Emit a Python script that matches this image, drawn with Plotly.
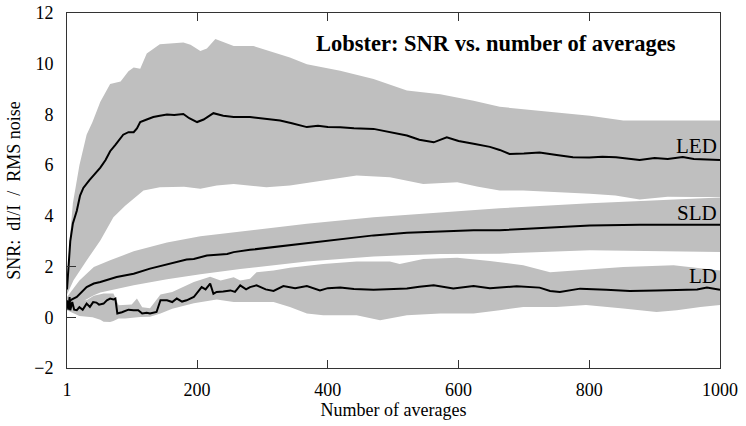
import plotly.graph_objects as go

# ---------------- data ----------------
led_x = [1, 3, 6, 10, 16, 21, 26, 35, 45, 52, 60, 67, 75, 87, 95, 103, 108, 113, 123, 133, 143, 154, 165, 179,
         188, 200, 210, 225, 240, 256, 281, 300, 327, 345, 368, 385, 400, 419, 440, 470, 495, 521, 540, 562, 582,
         600, 623, 648, 663, 678, 700, 724, 750, 775, 800, 820, 841, 860, 877, 900, 920, 943, 960, 980, 1000]
led_y = [1.1, 2.0, 3.0, 3.7, 4.2, 4.8, 5.1, 5.4, 5.7, 5.9, 6.2, 6.55, 6.8, 7.2, 7.3, 7.3, 7.45, 7.7, 7.8, 7.9,
         7.95, 8.0, 7.98, 8.02, 7.85, 7.7, 7.8, 8.05, 7.95, 7.9, 7.9, 7.85, 7.76, 7.65, 7.5, 7.55, 7.5, 7.49,
         7.45, 7.43, 7.3, 7.17, 7.0, 6.9, 7.1, 6.95, 6.84, 6.72, 6.6, 6.44, 6.46, 6.5, 6.4, 6.31, 6.3, 6.33,
         6.31, 6.26, 6.2, 6.28, 6.24, 6.32, 6.24, 6.22, 6.2]
led_up_x = [1, 5, 10, 20, 31, 40, 52, 67, 83, 95, 103, 113, 123, 143, 179, 190, 205, 215, 228, 240, 256, 286,
            310, 342, 368, 419, 470, 521, 572, 623, 663, 699, 750, 801, 852, 1000]
led_up_y = [1.3, 3.0, 4.5, 6.0, 7.2, 7.7, 8.5, 9.2, 9.3, 9.7, 9.85, 9.8, 10.4, 10.77, 10.84, 10.75, 10.5, 10.6,
            10.97, 10.85, 10.7, 10.7, 10.5, 10.25, 9.98, 9.72, 9.4, 8.94, 8.8, 8.54, 8.3, 8.22, 8.08, 7.95,
            7.76, 7.76]
led_lo_x = [1, 11, 31, 52, 72, 90, 103, 118, 143, 180, 205, 230, 256, 306, 342, 393, 444, 495, 546, 598, 630,
            663, 699, 750, 801, 840, 877, 920, 960, 1000]
led_lo_y = [0.9, 1.46, 2.24, 3.03, 3.95, 4.4, 4.67, 5.0, 5.13, 5.15, 5.07, 5.2, 5.26, 5.13, 5.2, 5.39, 5.59,
            5.52, 5.26, 5.33, 5.15, 5.0, 5.0, 4.93, 4.87, 4.8, 4.65, 4.75, 4.74, 4.74]

sld_x = [1, 8, 16, 31, 42, 52, 77, 93, 103, 128, 144, 154, 184, 195, 215, 246, 256, 281, 317, 368, 419, 470,
         521, 572, 623, 663, 699, 750, 801, 877, 1000]
sld_y = [0.54, 0.7, 0.8, 1.19, 1.33, 1.39, 1.59, 1.66, 1.72, 1.92, 2.02, 2.11, 2.28, 2.3, 2.44, 2.5, 2.57, 2.66,
         2.77, 2.93, 3.1, 3.23, 3.33, 3.39, 3.43, 3.43, 3.48, 3.56, 3.62, 3.65, 3.65]
sld_up_x = [1, 20, 42, 67, 103, 154, 205, 266, 368, 470, 572, 663, 801, 1000]
sld_up_y = [0.8, 1.45, 1.98, 2.25, 2.6, 2.95, 3.2, 3.38, 3.69, 3.95, 4.15, 4.3, 4.5, 4.72]
sld_lo_x = [1, 20, 42, 52, 103, 154, 205, 266, 368, 470, 572, 663, 801, 900, 1000]
sld_lo_y = [0.28, 0.55, 0.87, 0.98, 1.26, 1.5, 1.7, 1.9, 2.2, 2.4, 2.5, 2.51, 2.64, 2.6, 2.57]

ld_x = [1, 3, 5, 6, 9, 12, 16, 20, 25, 31, 36, 41, 46, 50, 57, 62, 67, 72, 75, 78, 85, 95, 103, 110, 116, 123,
        128, 138, 144, 154, 162, 169, 177, 184, 195, 207, 213, 220, 225, 230, 240, 251, 258, 266, 275, 281, 291,
        305, 317, 332, 350, 368, 388, 400, 419, 440, 470, 495, 521, 540, 562, 592, 610, 623, 648, 663, 689, 724,
        740, 755, 786, 826, 862, 903, 944, 965, 980, 1000]
ld_y = [0.67, 0.3, 0.8, 0.28, 0.6, 0.3, 0.28, 0.4, 0.3, 0.54, 0.41, 0.6, 0.58, 0.5, 0.54, 0.67, 0.74, 0.7, 0.74,
        0.15, 0.2, 0.3, 0.28, 0.28, 0.15, 0.18, 0.15, 0.21, 0.67, 0.67, 0.6, 0.74, 0.62, 0.67, 0.8, 1.19, 1.1,
        1.33, 0.93, 1.0, 1.02, 1.06, 1.0, 1.26, 1.1, 1.19, 1.26, 1.1, 1.04, 1.23, 1.15, 1.23, 1.06, 1.15, 1.17,
        1.12, 1.09, 1.12, 1.14, 1.2, 1.26, 1.14, 1.2, 1.23, 1.15, 1.17, 1.22, 1.17, 1.04, 1.0, 1.13, 1.09, 1.04,
        1.06, 1.09, 1.1, 1.17, 1.09]
ld_up_x = [1, 10, 31, 42, 57, 72, 80, 100, 108, 116, 128, 144, 162, 195, 220, 236, 256, 266, 281, 291, 317, 342,
           393, 444, 495, 510, 546, 598, 648, 699, 740, 775, 852, 929, 1000]
ld_up_y = [0.8, 0.7, 0.67, 0.85, 0.94, 0.94, 0.47, 0.5, 0.74, 0.4, 0.36, 0.9, 1.0, 1.39, 1.6, 1.45, 1.58, 1.45,
           1.52, 1.78, 1.85, 1.95, 2.1, 2.2, 2.2, 2.1, 2.3, 2.35, 2.22, 2.05, 1.78, 1.85, 1.98, 2.05, 1.85]
ld_lo_x = [1, 20, 40, 52, 57, 67, 72, 80, 90, 113, 128, 144, 162, 195, 230, 256, 281, 317, 342, 368, 393, 444,
           480, 521, 572, 623, 663, 699, 750, 795, 852, 903, 934, 970, 1000]
ld_lo_y = [0.28, 0.05, 0.0, -0.1, -0.18, -0.19, -0.15, -0.05, -0.05, 0.01, 0.02, 0.15, 0.34, 0.55, 0.7, 0.6,
           0.6, 0.6, 0.41, 0.15, 0.08, 0.08, -0.12, 0.08, 0.15, 0.15, 0.28, 0.41, 0.41, 0.48, 0.35, 0.21,
           0.28, 0.41, 0.48]

labels = ["LED", "SLD", "LD"]
label_y = [6.75, 4.11, 1.61]
title_text = "Lobster: SNR vs. number of averages"
x_ticks = [1, 200, 400, 600, 800, 1000]
y_ticks = [-2, 0, 2, 4, 6, 8, 10, 12]
y_marks = [0, 2]

FONT = "Liberation Serif, Times New Roman, serif"
GRAY = "rgb(191,191,191)"

fig = go.Figure()

bands = [(led_up_x, led_up_y, led_lo_x, led_lo_y),
         (sld_up_x, sld_up_y, sld_lo_x, sld_lo_y),
         (ld_up_x, ld_up_y, ld_lo_x, ld_lo_y)]
for ux, uy, lx, ly in bands:
    fig.add_trace(go.Scatter(x=ux + lx[::-1], y=uy + ly[::-1], fill="toself", fillcolor=GRAY,
                             line=dict(width=0, color=GRAY), mode="lines", hoverinfo="skip",
                             showlegend=False))

for xs, ys in [(led_x, led_y), (sld_x, sld_y), (ld_x, ld_y)]:
    fig.add_trace(go.Scatter(x=xs, y=ys, mode="lines", line=dict(color="black", width=2),
                             showlegend=False))

# invisible trace carrying the overlay axis with the few inner y tick marks
fig.add_trace(go.Scatter(x=[1], y=[0], mode="markers", marker=dict(opacity=0), yaxis="y2",
                         showlegend=False, hoverinfo="skip"))

for lab, ly in zip(labels, label_y):
    fig.add_annotation(x=1000, y=ly, xref="x", yref="y", text=lab, showarrow=False,
                       xanchor="right", yanchor="middle", xshift=-1,
                       font=dict(family=FONT, size=21, color="black"))

fig.add_annotation(x=0.936, y=0.915, xref="paper", yref="paper", text="<b>" + title_text + "</b>",
                   showarrow=False, xanchor="right", yanchor="middle",
                   font=dict(family=FONT, size=22.5, color="black"))

fig.update_layout(
    width=746, height=426,
    margin=dict(l=67, r=26, t=13, b=58),
    paper_bgcolor="white", plot_bgcolor="white",
    font=dict(family=FONT, size=18, color="black"),
    xaxis=dict(range=[1, 1000], tickvals=x_ticks, ticktext=[str(v) for v in x_ticks],
               ticks="inside", ticklen=8, tickcolor="#333", showgrid=False, zeroline=False,
               showline=True, linecolor="#333", linewidth=1, mirror="ticks", automargin=False,
               ticklabelstandoff=5, ticklabeloverflow="allow",
               title=dict(text="Number of averages", standoff=4, font=dict(size=18))),
    yaxis=dict(range=[-2, 12], tickvals=y_ticks, ticks="", showgrid=False, zeroline=False,
               showline=True, linecolor="#333", linewidth=1, mirror=True, ticklabelstandoff=9,
               automargin=False, ticklabeloverflow="allow",
               title=dict(text="SNR:  dI/I  /  RMS noise", standoff=8, font=dict(size=18))),
    yaxis2=dict(range=[-2, 12], overlaying="y", side="left", tickvals=y_marks, ticks="inside",
                ticklen=9, tickcolor="#333", showticklabels=False, showline=False, showgrid=False,
                zeroline=False, automargin=False),
)

# remove the default 8px page margin so the figure sits at the window's top-left corner
fig.write_html("out.html", config={"displayModeBar": False},
               post_script="document.body.style.margin='0';")
